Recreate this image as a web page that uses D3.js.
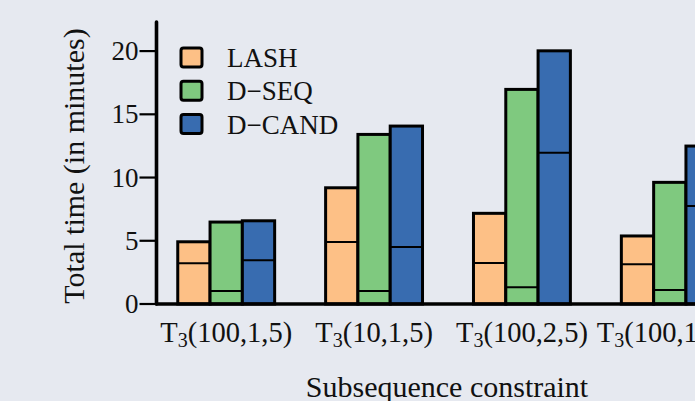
<!DOCTYPE html>
<html>
<head>
<meta charset="utf-8">
<script src="https://cdn.jsdelivr.net/npm/d3@7"></script>
<style>
    html, body { margin: 0; padding: 0; background: #e6e9f0; }
    svg { display: block; }
    text { font-family: "Liberation Serif", "DejaVu Serif", serif; fill: #111; }
</style>
</head>
<body>
<svg id="chart" width="695" height="401"></svg>
<script>
// Data
const groups = ['100,1,5', '10,1,5', '100,2,5', '100,1,10'];
const seriesNames = ['LASH', 'D\u2212SEQ', 'D\u2212CAND'];
const seriesColors = ['#fdc086', '#7fc97f', '#386cb0'];
// total time per group, one array per series
const lashTotal = [4.92, 9.19, 7.17, 5.38];
const dseqTotal = [6.48, 13.41, 16.97, 9.62];
const dcandTotal = [6.58, 14.07, 20.02, 12.49];
// level of the inner split line in each bar
const lashSplit = [3.22, 4.9, 3.24, 3.14];
const dseqSplit = [1.03, 1.03, 1.32, 1.1];
const dcandSplit = [3.45, 4.5, 11.96, 7.75];
const yTicks = [0, 5, 10, 15, 20];

/**
 * Visual configs.
 */
const width = 695, height = 401,
    axisX = 156.5, baseY = 304, topY = 22,
    barWidth = 32.3,
    fontSize = 27,
    tickFontSize = 28.5,
    titleFontSize = 30;

const totals = [lashTotal, dseqTotal, dcandTotal],
    splits = [lashSplit, dseqSplit, dcandSplit];

const svg = d3.select('#chart');

/**
 * Scales.
 */
const xScale = d3.scalePoint().domain(groups).range([226.2, 669.8]),
    subScale = d3.scaleBand().domain(d3.range(seriesNames.length))
        .range([-1.5 * barWidth, 1.5 * barWidth]),
    yScale = d3.scaleLinear().domain([0, 22.3]).range([baseY, topY]);

/**
 * Bars.
 */
const barData = [];
groups.forEach((g, gi) => {
    seriesNames.forEach((s, si) => {
        barData.push({ group: g, series: si, total: totals[si][gi], split: splits[si][gi] });
    });
});

const bars = svg.append('g').attr('class', 'bars')
    .selectAll('.bar').data(barData)
    .enter().append('g').attr('class', 'bar')
    .attr('transform', d => 'translate(' + (xScale(d.group) + subScale(d.series)) + ',0)');

bars.append('rect')
    .attr('x', 0)
    .attr('y', d => yScale(d.total))
    .attr('width', subScale.bandwidth())
    .attr('height', d => baseY - yScale(d.total))
    .attr('fill', d => seriesColors[d.series])
    .attr('stroke', '#000')
    .attr('stroke-width', 3);

bars.append('line')
    .attr('x1', 0)
    .attr('x2', subScale.bandwidth())
    .attr('y1', d => yScale(d.split))
    .attr('y2', d => yScale(d.split))
    .attr('stroke', '#000')
    .attr('stroke-width', 2);

/**
 * Axes.
 */
const yAxis = svg.append('g').attr('class', 'y-axis');
yAxis.selectAll('.tick').data(yTicks)
    .enter().append('line')
    .attr('x1', axisX - 17).attr('x2', axisX)
    .attr('y1', d => yScale(d)).attr('y2', d => yScale(d))
    .attr('stroke', '#000').attr('stroke-width', 2.2);

yAxis.selectAll('.label').data(yTicks)
    .enter().append('text')
    .attr('x', axisX - 18)
    .attr('y', d => yScale(d) + 9)
    .attr('text-anchor', 'end')
    .style('font-size', fontSize + 'px')
    .text(d => d);

svg.append('line')
    .attr('x1', axisX).attr('x2', axisX)
    .attr('y1', topY).attr('y2', baseY)
    .attr('stroke', '#000').attr('stroke-width', 3.6)
    .attr('stroke-linecap', 'round');

svg.append('line')
    .attr('x1', axisX).attr('x2', width + 5)
    .attr('y1', baseY).attr('y2', baseY)
    .attr('stroke', '#000').attr('stroke-width', 3.6)
    .attr('stroke-linecap', 'round');

// Group labels T_3(...)
const xLabels = svg.append('g').selectAll('text').data(groups)
    .enter().append('text')
    .attr('x', d => xScale(d))
    .attr('y', 342)
    .attr('text-anchor', 'middle')
    .style('font-size', tickFontSize + 'px');
xLabels.append('tspan').text('T');
xLabels.append('tspan').attr('dy', 5).style('font-size', '20px').text('3');
xLabels.append('tspan').attr('dy', -5).text(d => '(' + d + ')');

// Axis titles
svg.append('text')
    .attr('x', 447).attr('y', 397)
    .attr('text-anchor', 'middle')
    .style('font-size', titleFontSize + 'px')
    .text('Subsequence constraint');

svg.append('text')
    .attr('transform', 'translate(84,166) rotate(-90)')
    .attr('text-anchor', 'middle')
    .style('font-size', titleFontSize + 'px')
    .text('Total time (in minutes)');

/**
 * Legend.
 */
const legend = svg.append('g').attr('class', 'legend')
    .selectAll('g').data(seriesNames)
    .enter().append('g')
    .attr('transform', (d, i) => 'translate(181,' + (48 + i * 33.3) + ')');

legend.append('rect')
    .attr('width', 21).attr('height', 19)
    .attr('rx', 2.5)
    .attr('fill', (d, i) => seriesColors[i])
    .attr('stroke', '#000').attr('stroke-width', 3);

legend.append('text')
    .attr('x', 46).attr('y', 19)
    .style('font-size', fontSize + 'px')
    .text(d => d);
</script>
</body>
</html>
